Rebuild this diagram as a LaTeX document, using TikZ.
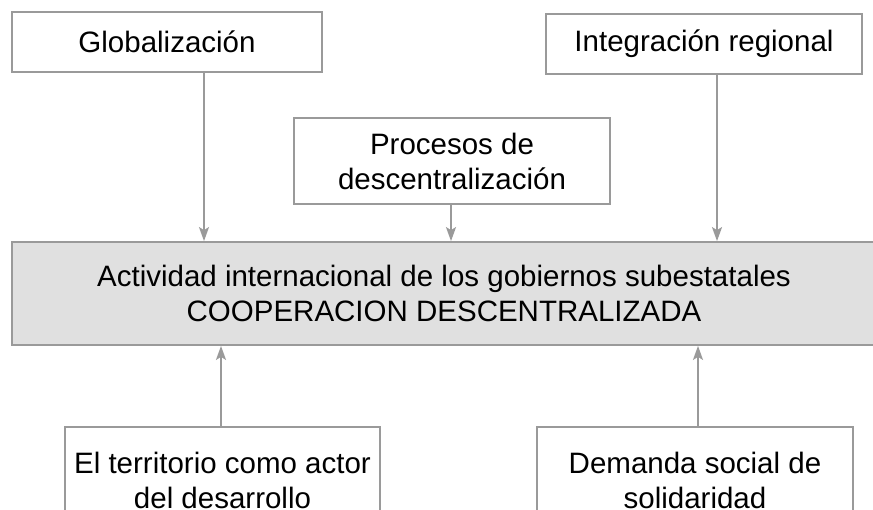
\documentclass[tikz,border=0pt]{standalone}
\usepackage{fontspec}
\setmainfont{Liberation Sans}
\usetikzlibrary{arrows.meta}
\definecolor{boxline}{HTML}{9A9A9A}
\definecolor{boxfill}{HTML}{E0E0E0}
\begin{document}
\begin{tikzpicture}[x=1pt, y=-1pt,
  box/.style={draw=boxline, line width=1.8pt, fill=white, align=center, inner sep=0pt,
    font=\fontsize{29.5}{35}\selectfont},
  link/.style={draw=boxline, line width=1.8pt},
  >={Stealth[length=14pt,width=10pt,inset=3pt]}
]
\useasboundingbox (0,0) rectangle (873,509);
\clip (0,0) rectangle (873,509);
\node[box, minimum width=310pt, minimum height=60pt]  (glob)  at (167,42)    {Globalización};
\node[box, minimum width=316pt, minimum height=60pt]  (integ) at (704,44)    {Integración regional};
\node[box, minimum width=316pt, minimum height=86pt]  (proc)  at (452,161)   {Procesos de\\descentralización};
\node[box, fill=boxfill, minimum width=864pt, minimum height=103pt] (act) at (444,293.5)
  {Actividad internacional de los gobiernos subestatales\\COOPERACION DESCENTRALIZADA};
\node[box, minimum width=315pt, minimum height=106pt] (terr) at (222.5,480) {El territorio como actor\\del desarrollo};
\node[box, minimum width=316pt, minimum height=106pt] (dem)  at (695,480)   {Demanda social de\\solidaridad};
\draw[link, ->] (204,0 |- glob.south)  -- (204,0 |- act.north);
\draw[link, ->] (717,0 |- integ.south) -- (717,0 |- act.north);
\draw[link, ->] (451,0 |- proc.south)  -- (451,0 |- act.north);
\draw[link, ->] (221,0 |- terr.north)  -- (221,0 |- act.south);
\draw[link, ->] (698,0 |- dem.north)   -- (698,0 |- act.south);
\end{tikzpicture}
\end{document}
